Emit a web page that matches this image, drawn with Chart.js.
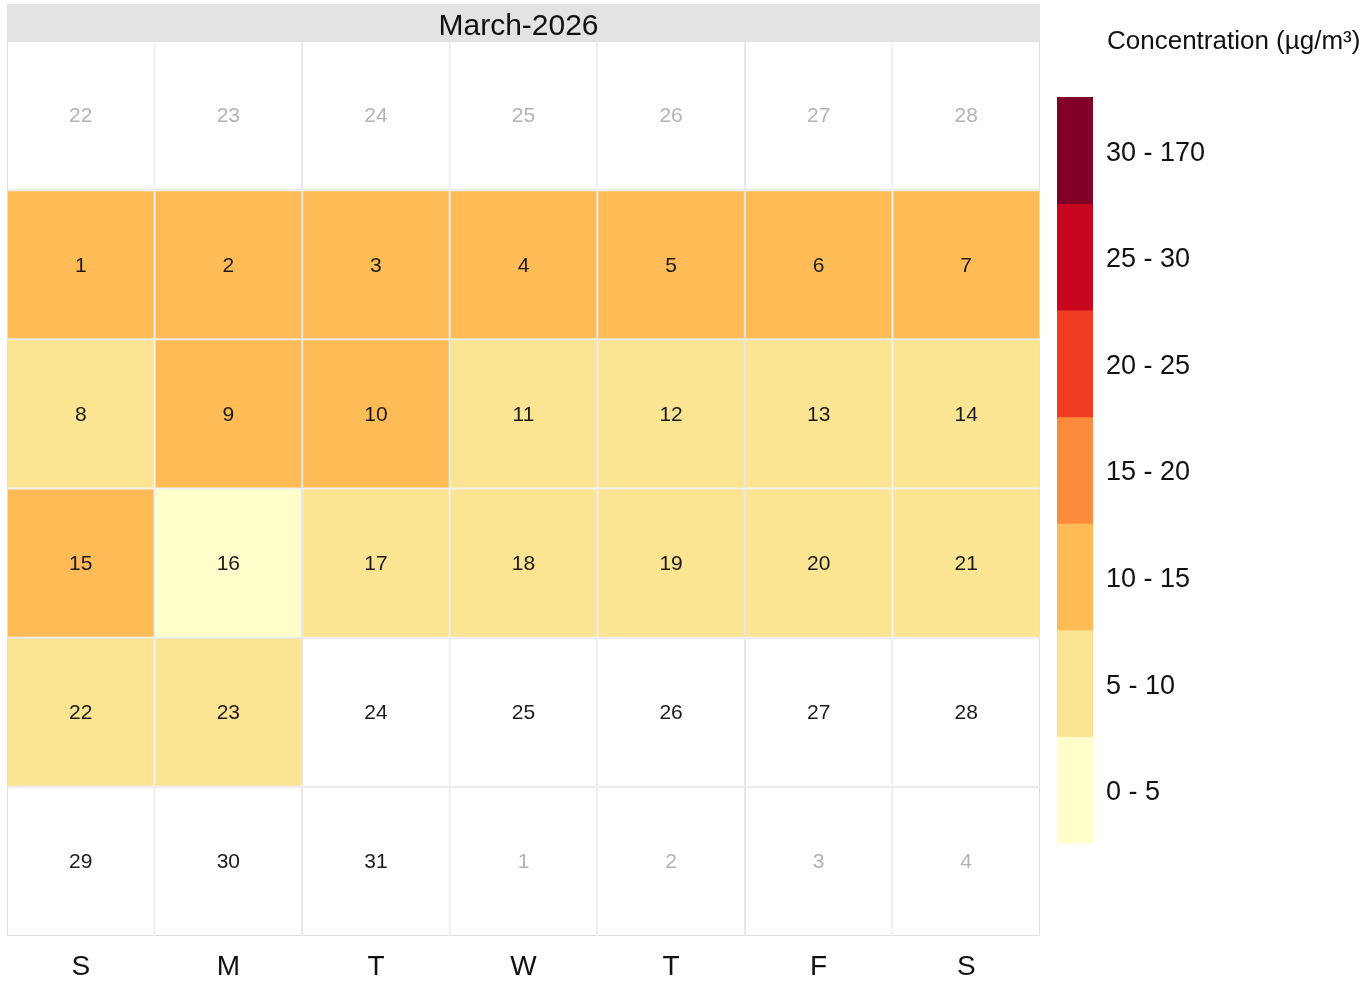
<!DOCTYPE html>
<html>
<head>
<meta charset="utf-8">
<script src="https://cdn.jsdelivr.net/npm/chart.js@4.4.1/dist/chart.umd.min.js"></script>
<style>
html,body{margin:0;padding:0;background:#fff;}
#wrap{width:1371px;height:987px;position:relative;}
</style>
</head>
<body>
<div id="wrap"><canvas id="c" width="1371" height="987"></canvas></div>
<script>
// ---- data ----
const monthTitle = 'March-2026';
const weekdayLabels = ['S','M','T','W','T','F','S'];
// day numbers shown in each calendar row (Sunday first)
const week1Days = [22,23,24,25,26,27,28];
const week2Days = [1,2,3,4,5,6,7];
const week3Days = [8,9,10,11,12,13,14];
const week4Days = [15,16,17,18,19,20,21];
const week5Days = [22,23,24,25,26,27,28];
const week6Days = [29,30,31,1,2,3,4];
// whether the cell belongs to the current month
const week1InMonth = [0,0,0,0,0,0,0];
const week2InMonth = [1,1,1,1,1,1,1];
const week3InMonth = [1,1,1,1,1,1,1];
const week4InMonth = [1,1,1,1,1,1,1];
const week5InMonth = [1,1,1,1,1,1,1];
const week6InMonth = [1,1,1,0,0,0,0];
// daily mean concentration (µg/m³), index = day of month - 1, null = no data
const concentration = [12.5,13.1,11.4,12.0,13.6,11.0,12.2,
                       8.6,10.8,11.9,7.9,8.4,9.1,7.3,
                       10.6,4.2,7.7,8.9,9.4,8.1,6.8,
                       7.5,6.2,null,null,null,null,null,
                       null,null,null];
// colour scale
const breaks = [0,5,10,15,20,25,30,170];
const breakLabels = ['0 - 5','5 - 10','10 - 15','15 - 20','20 - 25','25 - 30','30 - 170'];
const breakColors = ['#FFFFCC','#FCE592','#FEBB56','#FD8B3C','#F23D25','#C9061F','#800026'];
const legendTitle = 'Concentration (µg/m³)';

// ---- build ----
const weeksDays = [week1Days,week2Days,week3Days,week4Days,week5Days,week6Days];
const weeksIn = [week1InMonth,week2InMonth,week3InMonth,week4InMonth,week5InMonth,week6InMonth];
function colorFor(v){
  if (v === null || v === undefined) return '#FFFFFF';
  for (let i=0;i<breakColors.length;i++){ if (v < breaks[i+1]) return breakColors[i]; }
  return breakColors[breakColors.length-1];
}
const datasets = weeksDays.map((days,w)=>({
  label: 'week'+(w+1),
  data: days.map(()=>1),
  backgroundColor: days.map((d,i)=> weeksIn[w][i] ? colorFor(concentration[d-1]) : '#FFFFFF'),
  borderColor: '#E0E0E0',
  borderWidth: 1,
  borderSkipped: false,
  categoryPercentage: 1.0,
  barPercentage: 1.0,
  inflateAmount: 0,
  stack: 's'
}));

const FONT = '"Liberation Sans", Arial, Helvetica, sans-serif';

const calendarPlugin = {
  id: 'calendarText',
  afterDatasetsDraw(chart){
    const ctx = chart.ctx;
    ctx.save();
    ctx.textAlign = 'center';
    ctx.textBaseline = 'middle';
    ctx.font = '21px ' + FONT;
    chart.data.datasets.forEach((ds,w)=>{
      const meta = chart.getDatasetMeta(w);
      meta.data.forEach((el,i)=>{
        const cy = (el.y + el.base)/2;
        ctx.fillStyle = weeksIn[w][i] ? '#1a1a1a' : '#b3b3b3';
        ctx.fillText(String(weeksDays[w][i]), el.x, cy+1);
      });
    });
    ctx.restore();
  },
  afterDraw(chart){
    const ctx = chart.ctx;
    const a = chart.chartArea;
    ctx.save();
    // title strip
    ctx.fillStyle = '#E3E3E3';
    ctx.fillRect(a.left, 4, a.right - a.left, a.top - 4);
    ctx.fillStyle = '#111';
    ctx.font = '30px ' + FONT;
    ctx.textAlign = 'center';
    ctx.textBaseline = 'middle';
    ctx.fillText(monthTitle, (a.left + a.right)/2 - 5, (4 + a.top)/2 + 4);
    // legend
    const lx = 1057, lw = 36, top = 97, bottom = 843;
    const n = breakColors.length;
    const h = (bottom - top)/n;
    for (let i=0;i<n;i++){
      const y0 = bottom - (i+1)*h;
      ctx.fillStyle = breakColors[i];
      ctx.fillRect(lx, y0, lw, h+0.5);
      ctx.fillStyle = '#111';
      ctx.font = '27px ' + FONT;
      ctx.textAlign = 'left';
      ctx.fillText(breakLabels[i], 1106, y0 + h/2 + 3);
    }
    ctx.font = '26px ' + FONT;
    ctx.fillStyle = '#111';
    ctx.fillText(legendTitle, 1107, 42);
    ctx.restore();
  }
};

new Chart(document.getElementById('c'), {
  type: 'bar',
  data: { labels: weekdayLabels, datasets },
  plugins: [calendarPlugin],
  options: {
    responsive: false,
    animation: false,
    layout: { padding: { left: 7, right: 331, top: 41, bottom: 0 } },
    plugins: { legend: { display: false }, tooltip: { enabled: false }, title: { display: false } },
    scales: {
      x: {
        stacked: true,
        grid: { display: false },
        border: { display: false },
        ticks: { color: '#111', font: { size: 28, family: FONT }, padding: 6, maxRotation: 0, autoSkip: false },
        afterFit(scale){ scale.height = 51; }
      },
      y: {
        stacked: true,
        display: false,
        reverse: true,
        min: 0,
        max: 6
      }
    }
  }
});
</script>
</body>
</html>
